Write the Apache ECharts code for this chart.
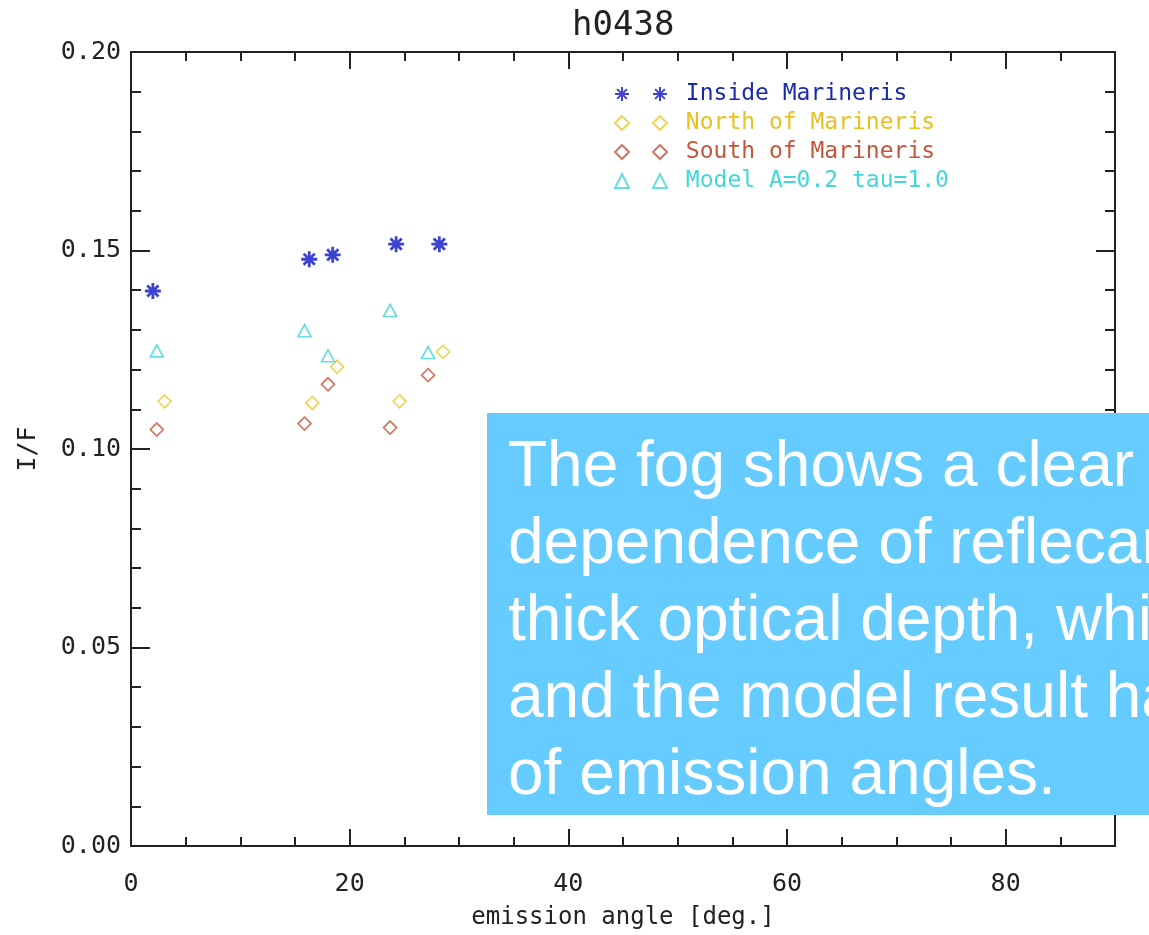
<!DOCTYPE html>
<html>
<head>
<meta charset="utf-8">
<script src="https://cdn.jsdelivr.net/npm/echarts@6/dist/echarts.min.js"></script>
<style>
html,body{margin:0;padding:0;background:#fff;}
#chart{width:1149px;height:935px;}
</style>
</head>
<body>
<div id="chart"></div>
<script>
// ---- data (emission angle [deg], I/F) ----
const insideX = [2.0, 16.3, 18.45, 24.25, 28.2];
const insideY = [0.1398, 0.1478, 0.1489, 0.1516, 0.1516];
const northX = [3.07, 16.58, 18.85, 24.57, 28.55];
const northY = [0.1120, 0.1116, 0.1207, 0.1120, 0.1245];
const southX = [2.36, 15.87, 18.02, 23.7, 27.17];
const southY = [0.1049, 0.1064, 0.1163, 0.1054, 0.1186];
const modelX = [2.36, 15.87, 18.02, 23.7, 27.17];
const modelY = [0.1247, 0.1298, 0.1235, 0.1349, 0.1243];
const seriesNames = ['Inside Marineris', 'North of Marineris', 'South of Marineris', 'Model A=0.2 tau=1.0'];
const titleText = 'h0438';
const xName = 'emission angle [deg.]';
const yName = 'I/F';
const noteLines = [
  'The fog shows a clear',
  'dependence of reflecan',
  'thick optical depth, whi',
  'and the model result ha',
  'of emission angles.'
];

const pairs = (xs, ys) => xs.map((x, i) => [x, ys[i]]);
const MONO = '"DejaVu Sans Mono", monospace';
const AX = '#222';
const colors = ['#0a14c4', '#ecc830', '#c4553c', '#44d6d8'];
const textColors = ['#1a2aa8', '#e8c020', '#c4553c', '#44d6d8'];
const STAR = 'path://M0,5L10,5M5,0L5,10M1.5,1.5L8.5,8.5M8.5,1.5L1.5,8.5';

function mkSeries(name, data, symbol, size, color, filled) {
  return {
    name, type: 'scatter', data, symbol, symbolSize: size,
    xAxisIndex: 0, yAxisIndex: 0,
    itemStyle: filled
      ? { color: color, borderColor: color, borderWidth: 2.8 }
      : { color: 'rgba(255,255,255,0)', borderColor: color, borderWidth: 1.7 },
    emphasis: { disabled: true },
    z: 5
  };
}

function xAx(pos, interval, len, labels) {
  return {
    type: 'value', min: 0, max: 90, interval, position: pos,
    axisLine: { show: true, onZero: false, lineStyle: { color: AX, width: 2 } },
    axisTick: { show: true, inside: true, length: len, lineStyle: { color: AX, width: 2 } },
    axisLabel: labels ? { show: true, fontFamily: MONO, fontSize: 25, color: AX, margin: 26, showMaxLabel: false } : { show: false },
    splitLine: { show: false },
    name: labels ? xName : '', nameLocation: 'middle', nameGap: 60,
    nameTextStyle: { fontFamily: MONO, fontSize: 24, color: AX }
  };
}
function yAx(pos, interval, len, labels) {
  return {
    type: 'value', min: 0, max: 0.2, interval, position: pos,
    axisLine: { show: true, onZero: false, lineStyle: { color: AX, width: 2 } },
    axisTick: { show: true, inside: true, length: len, lineStyle: { color: AX, width: 2 } },
    axisLabel: labels ? { show: true, fontFamily: MONO, fontSize: 25, color: AX, margin: 10, formatter: v => v.toFixed(2) } : { show: false },
    splitLine: { show: false },
    name: labels ? yName : '', nameLocation: 'middle', nameGap: 90, nameRotate: 90,
    nameTextStyle: { fontFamily: MONO, fontSize: 25, color: AX }
  };
}

const legendData = seriesNames.map((n, i) => ({ name: n, textStyle: { color: textColors[i] } }));
const legendBase = {
  orient: 'vertical', top: 77, itemWidth: 14, itemHeight: 14, itemGap: 5,
  selectedMode: false, data: legendData,
  textStyle: { fontFamily: MONO, fontSize: 23, lineHeight: 24, padding: [0, 0, 0, 0] }
};

const chart = echarts.init(document.getElementById('chart'));
chart.setOption({
  backgroundColor: '#fff',
  animation: false,
  title: { text: titleText, left: 567, top: 4, textStyle: { fontFamily: MONO, fontSize: 34, fontWeight: 'normal', color: AX } },
  grid: { left: 131, right: 34, top: 52, bottom: 89, containLabel: false },
  xAxis: [xAx('bottom', 20, 17, true), xAx('bottom', 5, 9, false), xAx('top', 20, 17, false), xAx('top', 5, 9, false)],
  yAxis: [yAx('left', 0.05, 19, true), yAx('left', 0.01, 10, false), yAx('right', 0.05, 19, false), yAx('right', 0.01, 10, false)],
  legend: [
    Object.assign({}, legendBase, { left: 609, formatter: () => ' ' }),
    Object.assign({}, legendBase, { left: 647, formatter: n => ' ' + n })
  ],
  series: [
    mkSeries(seriesNames[0], pairs(insideX, insideY), STAR, 16, colors[0], true),
    mkSeries(seriesNames[1], pairs(northX, northY), 'diamond', 13, colors[1], false),
    mkSeries(seriesNames[2], pairs(southX, southY), 'diamond', 13, colors[2], false),
    mkSeries(seriesNames[3], pairs(modelX, modelY), 'triangle', [13, 12], colors[3], false)
  ],
  graphic: [
    { type: 'rect', z: 100, shape: { x: 487, y: 413, width: 700, height: 402 }, style: { fill: '#66ccff' } },
    { type: 'text', z: 101, x: 508, y: 430, style: { text: noteLines.join('\n'), font: '64px "Liberation Sans", Arial, sans-serif', fill: '#ffffff', lineHeight: 77 } }
  ]
});
</script>
</body>
</html>
